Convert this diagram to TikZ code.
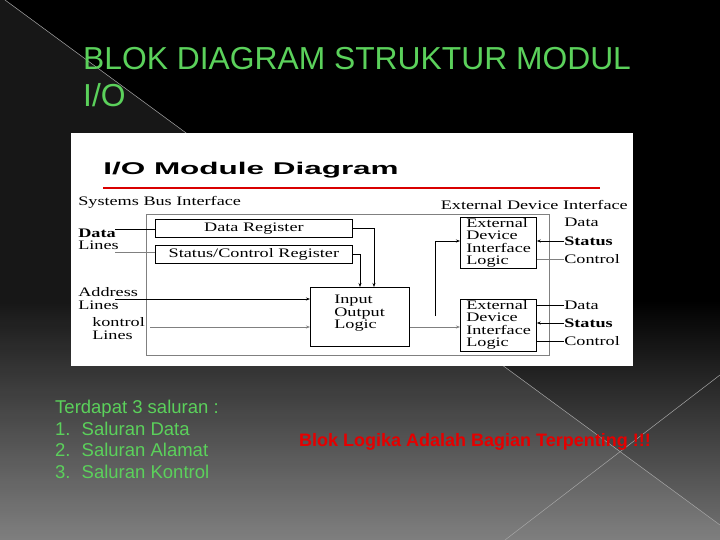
\documentclass[tikz,border=0pt]{standalone}
\usepackage{fontspec}
\setmainfont{Liberation Serif}
\newfontfamily\arial{Liberation Sans}
\usetikzlibrary{arrows.meta}
\definecolor{ttlgreen}{HTML}{5BD15B}
\begin{document}
\begin{tikzpicture}[x=1pt,y=-1pt,
  blk/.style={draw,line width=0.8pt,inner sep=0pt,anchor=north west},
  lbl/.style={font=\fontsize{13}{12.5}\selectfont,inner sep=0pt,xscale=1.4},
  blbl/.style={lbl,font=\bfseries\fontsize{13}{12.5}\selectfont},
  wire/.style={line width=0.8pt},
  arr/.style={wire,-{Stealth[length=4pt,width=3pt]}},
  gwire/.style={line width=0.6pt,draw=gray}]
\useasboundingbox (0,0) rectangle (720,540);
\fill[black] (0,0) rectangle (720,300);
\shade[top color=black,bottom color=black!55!white] (0,300) rectangle (720,540);
\fill[white,opacity=0.09] (0,0) -- (5,0) -- (720,525) -- (720,540) -- (0,540) -- cycle;
\draw[gray!70,line width=0.5pt] (5,0) -- (720,525);
\draw[gray!70,line width=0.5pt] (720,375) -- (505,540);
% title
\node[anchor=base west,text=ttlgreen,font=\arial\fontsize{31.8}{33}\selectfont,inner sep=0pt] (t1) at (83,70) {BLOK DIAGRAM STRUKTUR MODUL};
\node[anchor=base west,text=ttlgreen,font=\arial\fontsize{31.8}{33}\selectfont,inner sep=0pt] (t2) at (83,107) {I/O};
% white panel
\fill[white] (71,133) rectangle (633,366);
\node[anchor=west,font=\arial\bfseries\fontsize{17}{18}\selectfont,inner sep=0pt,xscale=1.85] (mt) at (103,170) {I/O Module Diagram};
\draw[red!85!black,line width=2pt] (103,188) -- (600,188);
\node[lbl,anchor=west] (sbi) at (78,202) {Systems Bus Interface};
\node[lbl,anchor=east] (edi) at (628,205) {External Device Interface};
\draw[line width=0.6pt,draw=gray] (146,214) rectangle (549,355);
\node[blk,minimum width=197pt,minimum height=18pt] (dr) at (155,219) {};
\node[lbl] at (dr.center) {Data Register};
\node[blk,minimum width=197pt,minimum height=18pt] (sr) at (155,245) {};
\node[lbl] at (sr.center) {Status/Control Register};
\node[blk,minimum width=99pt,minimum height=59pt] (io) at (310,287) {};
\node[lbl,align=left,anchor=north west] at (334,295) {Input\\Output\\Logic};
\node[blk,minimum width=76pt,minimum height=51pt] (e1) at (460,217) {};
\node[lbl,align=left,anchor=north west] at (466,218) {External\\Device\\Interface\\Logic};
\node[blk,minimum width=76pt,minimum height=52pt] (e2) at (460,299) {};
\node[lbl,align=left,anchor=north west] at (466,300) {External\\Device\\Interface\\Logic};
% left labels
\node[blbl,anchor=west] (ld) at (78,233) {Data};
\node[lbl,anchor=west] (ll) at (78,245) {Lines};
\node[lbl,anchor=west] (la) at (78,292) {Address};
\node[lbl,anchor=west] (la2) at (78,305) {Lines};
\node[lbl,anchor=west] (lk) at (92,322) {kontrol};
\node[lbl,anchor=west] (lk2) at (92,335) {Lines};
\coordinate (p1) at (115,229);
\coordinate (p2) at (115,252);
\coordinate (p3) at (115,299);
\coordinate (p4) at (150,327);
\draw[wire] (p1) -- (p1 -| dr.west);
\draw[wire,gray] (p2) -- (p2 -| sr.west);
\draw[arr] (p3) -- (p3 -| io.west);
\draw[gwire,-{Stealth[length=4pt,width=3pt]}] (p4) -- (p4 -| io.west);
\draw[arr] (dr.east |- 0,228) -- (374,228) -- (374,287);
\draw[arr] (sr.east |- 0,254) -- (360,254) -- (360,287);
\draw[gwire,-{Stealth[length=4pt,width=3pt]}] (io.east |- 0,327) -- (e2.west |- 0,327);
\draw[arr] (435,316) -- (435,241) -- (e1.west |- 0,241);
% right labels
\node[lbl,anchor=west] (rd1) at (564,222) {Data};
\node[blbl,anchor=west] (rs1) at (564,241) {Status};
\node[lbl,anchor=west] (rc1) at (564,259) {Control};
\node[lbl,anchor=west] (rd2) at (564,305) {Data};
\node[blbl,anchor=west] (rs2) at (564,323) {Status};
\node[lbl,anchor=west] (rc2) at (564,341) {Control};
\draw[arr] (rs1.west) -- (rs1.west -| e1.east);
\draw[gwire] (rc1.west) -- (rc1.west -| e1.east);
\draw[wire] (rd2.west) -- (rd2.west -| e2.east);
\draw[arr] (rs2.west) -- (rs2.west -| e2.east);
\draw[wire] (rc2.west) -- (rc2.west -| e2.east);
% bottom text
\node[anchor=north west,align=left,text=ttlgreen,font=\arial\fontsize{18.5}{21.5}\selectfont,inner sep=0pt] (lst) at (55,400)
 {Terdapat 3 saluran :\\1.\hspace{0.6em}Saluran Data\\2.\hspace{0.6em}Saluran Alamat\\3.\hspace{0.6em}Saluran Kontrol};
\node[text=red!90!black,font=\arial\bfseries\fontsize{18}{19}\selectfont,inner sep=0pt] (bl) at (475,442) {Blok Logika Adalah Bagian Terpenting !!!};
\end{tikzpicture}
\end{document}
